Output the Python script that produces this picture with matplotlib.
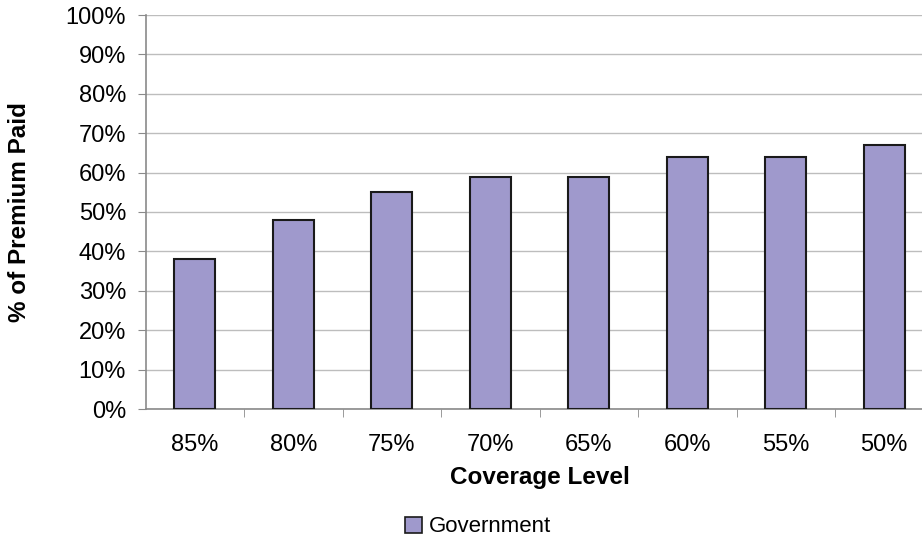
import matplotlib
matplotlib.use("Agg")
import matplotlib.pyplot as plt
from matplotlib.patches import Patch

plt.rcParams['font.family'] = ['Liberation Sans', 'DejaVu Sans']

# data
coverage = ['85%', '80%', '75%', '70%', '65%', '60%', '55%', '50%']
government = [38, 48, 55, 59, 59, 64, 64, 67]
yticks = [0, 10, 20, 30, 40, 50, 60, 70, 80, 90, 100]

fig = plt.figure(figsize=(9.22, 5.42), dpi=100)
ax = fig.add_axes([145.5 / 922, 1 - 409 / 542, 788 / 922, 394 / 542])

x = range(len(coverage))
ax.bar(x, government, width=0.42, color='#9f99cc', edgecolor='#1a1a1a',
       linewidth=1.5, zorder=3)

ax.set_ylim(0, 100)
ax.set_xlim(-0.5, len(coverage) - 0.5)
ax.set_yticks(yticks)
ax.set_yticklabels([f'{v}%' for v in yticks])
ax.set_xticks(list(x))
ax.set_xticklabels(coverage)
ax.set_xticks([i + 0.5 for i in range(len(coverage) - 1)], minor=True)

ax.grid(axis='y', color='#bdbdbd', linewidth=1, zorder=0)
for s in ['top', 'right']:
    ax.spines[s].set_visible(False)
for s in ['left', 'bottom']:
    ax.spines[s].set_color('#8a8a8a')
    ax.spines[s].set_linewidth(1.2)

ax.tick_params(axis='y', length=6, color='#8a8a8a', labelsize=17, pad=8)
ax.tick_params(axis='x', which='major', length=0, labelsize=17, pad=18)
ax.tick_params(axis='x', which='minor', length=6, color='#8a8a8a')

ax.set_xlabel('Coverage Level', fontsize=17.5, fontweight='bold', labelpad=7)
fig.text(20 / 922, 1 - 212 / 542, '% of Premium Paid', rotation=90,
         fontsize=17.5, fontweight='bold', ha='center', va='center')

handles = [Patch(facecolor='#9f99cc', edgecolor='#1a1a1a', linewidth=1.2)]
fig.legend(handles, ['Government'], loc='center', bbox_to_anchor=(478 / 922, 1 - 527 / 542),
           frameon=False, fontsize=16, handlelength=0.75, handleheight=0.75,
           handletextpad=0.3)

fig.savefig('out.png', dpi=100)
